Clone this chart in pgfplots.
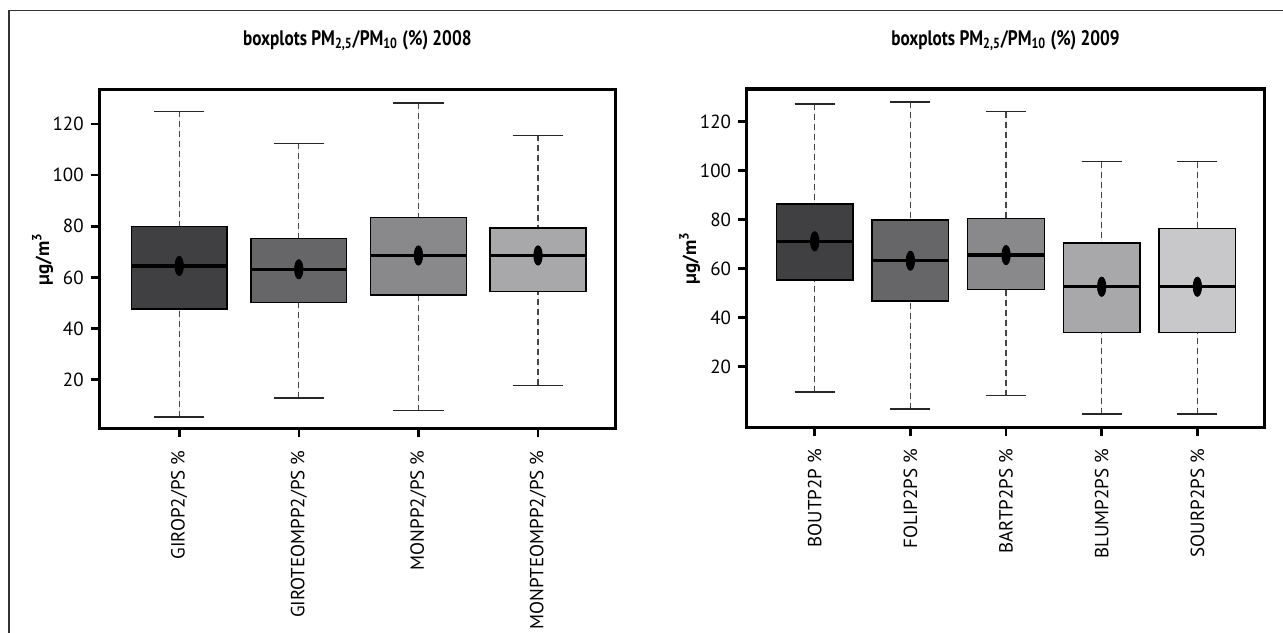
\documentclass[border=0pt]{standalone}
\usepackage{fontspec}
\setmainfont{PT Sans}
\newfontfamily\titlefont[FakeStretch=0.82]{PT Sans}
\usepackage{pgfplots}
\pgfplotsset{compat=1.18}
\usepgfplotslibrary{statistics}

\definecolor{box1}{RGB}{64,64,66}
\definecolor{box2}{RGB}{102,102,104}
\definecolor{box3}{RGB}{137,137,139}
\definecolor{box4}{RGB}{168,168,170}
\definecolor{box5}{RGB}{200,200,202}
\definecolor{whisk}{RGB}{70,70,70}

\pgfplotsset{
  panel/.style={
    scale only axis,
    anchor=south west,
    axis line style={line width=1.5pt},
    tick style={line width=1.3pt, black},
    tick align=outside,
    major tick length=4.3pt,
    tick pos=left,
    ytick={20,40,...,120},
    xtick={1,2,3,4,5},
    xticklabel style={rotate=90, anchor=east},
    xticklabel shift=3pt,
    tick label style={font=\fontsize{9.5}{11}\selectfont},
    /pgf/number format/assume math mode=true,
    title style={font=\titlefont\bfseries\fontsize{10.5}{12}\selectfont, at={(0.5,1)}, anchor=center, yshift=18.3pt},
    ylabel={µg/m\textsuperscript{3}},
    ylabel style={font=\bfseries\fontsize{9.5}{11}\selectfont, at={(axis description cs:-0.11,0.5)}, anchor=center},
    boxplot/draw direction=y,
    boxplot/box extend=0.8,
    boxplot/whisker extend=0.42,
    boxplot/every median/.style={line width=1.6pt, black},
    boxplot/draw/lower whisker/.code={
      \draw[densely dashed, whisk, line width=0.6pt]
        (boxplot cs:\pgfplotsboxplotvalue{lower whisker}) --
        (boxplot cs:\pgfplotsboxplotvalue{lower quartile});
      \draw[black!85, line width=0.7pt]
        (boxplot whisker cs:\pgfplotsboxplotvalue{lower whisker},0) --
        (boxplot whisker cs:\pgfplotsboxplotvalue{lower whisker},1);
    },
    boxplot/draw/upper whisker/.code={
      \draw[densely dashed, whisk, line width=0.6pt]
        (boxplot cs:\pgfplotsboxplotvalue{upper whisker}) --
        (boxplot cs:\pgfplotsboxplotvalue{upper quartile});
      \draw[black!85, line width=0.7pt]
        (boxplot whisker cs:\pgfplotsboxplotvalue{upper whisker},0) --
        (boxplot whisker cs:\pgfplotsboxplotvalue{upper whisker},1);
    },
  },
  bx/.style={draw=black, line width=0.7pt, fill=#1},
  meandot/.style={only marks, mark=*, mark size=2.1pt, black, mark options={yscale=2.3}},
}

\begin{document}
\begin{tikzpicture}
\useasboundingbox (0,0) rectangle (641.5pt,316pt);
\draw[black!80, line width=0.6pt] (4.5pt,-10pt) rectangle (660pt,310.6pt);

% 2008
\begin{axis}[panel,
  at={(49.65pt,101.6pt)}, width=258pt, height=169.75pt,
  xmin=0.332, xmax=4.646, ymin=0.8, ymax=133.6,
  xticklabels={GIROP2/PS \%, GIROTEOMPP2/PS \%, MONPP2/PS \%, MONPTEOMPP2/PS \%},
  title={boxplots PM\textsubscript{2,5}/PM\textsubscript{10} (\%) 2008}]
  \addplot[bx=box1, boxplot prepared={draw position=1, lower whisker=5.4, lower quartile=47.6, median=64.5, upper quartile=79.9, upper whisker=125.0}] coordinates {};
  \addplot[bx=box2, boxplot prepared={draw position=2, lower whisker=12.8, lower quartile=50.2, median=63.2, upper quartile=75.2, upper whisker=112.4}] coordinates {};
  \addplot[bx=box3, boxplot prepared={draw position=3, lower whisker=7.9, lower quartile=53.1, median=68.6, upper quartile=83.5, upper whisker=128.3}] coordinates {};
  \addplot[bx=box4, boxplot prepared={draw position=4, lower whisker=17.8, lower quartile=54.6, median=68.6, upper quartile=79.3, upper whisker=115.6}] coordinates {};
  \addplot[meandot] coordinates {(1,64.5) (2,63.2) (3,68.6) (4,68.6)};
\end{axis}

% 2009
\begin{axis}[panel,
  at={(373.35pt,102.35pt)}, width=258.8pt, height=169.15pt,
  xmin=0.289, xmax=5.70, ymin=-4.7, ymax=133.2,
  xticklabels={BOUTP2P \%, FOLIP2PS \%, BARTP2PS \%, BLUMP2PS \%, SOURP2PS \%},
  title={boxplots PM\textsubscript{2,5}/PM\textsubscript{10} (\%) 2009}]
  \addplot[bx=box1, boxplot prepared={draw position=1, lower whisker=9.7, lower quartile=55.3, median=71.1, upper quartile=86.4, upper whisker=127.1}] coordinates {};
  \addplot[bx=box2, boxplot prepared={draw position=2, lower whisker=2.8, lower quartile=46.8, median=63.2, upper quartile=79.8, upper whisker=127.9}] coordinates {};
  \addplot[bx=box3, boxplot prepared={draw position=3, lower whisker=8.2, lower quartile=51.4, median=65.5, upper quartile=80.5, upper whisker=124.0}] coordinates {};
  \addplot[bx=box4, boxplot prepared={draw position=4, lower whisker=0.7, lower quartile=34.0, median=52.6, upper quartile=70.4, upper whisker=103.6}] coordinates {};
  \addplot[bx=box5, boxplot prepared={draw position=5, lower whisker=0.7, lower quartile=34.0, median=52.6, upper quartile=76.4, upper whisker=103.6}] coordinates {};
  \addplot[meandot] coordinates {(1,71.1) (2,63.2) (3,65.5) (4,52.6) (5,52.6)};
\end{axis}
\end{tikzpicture}
\end{document}
